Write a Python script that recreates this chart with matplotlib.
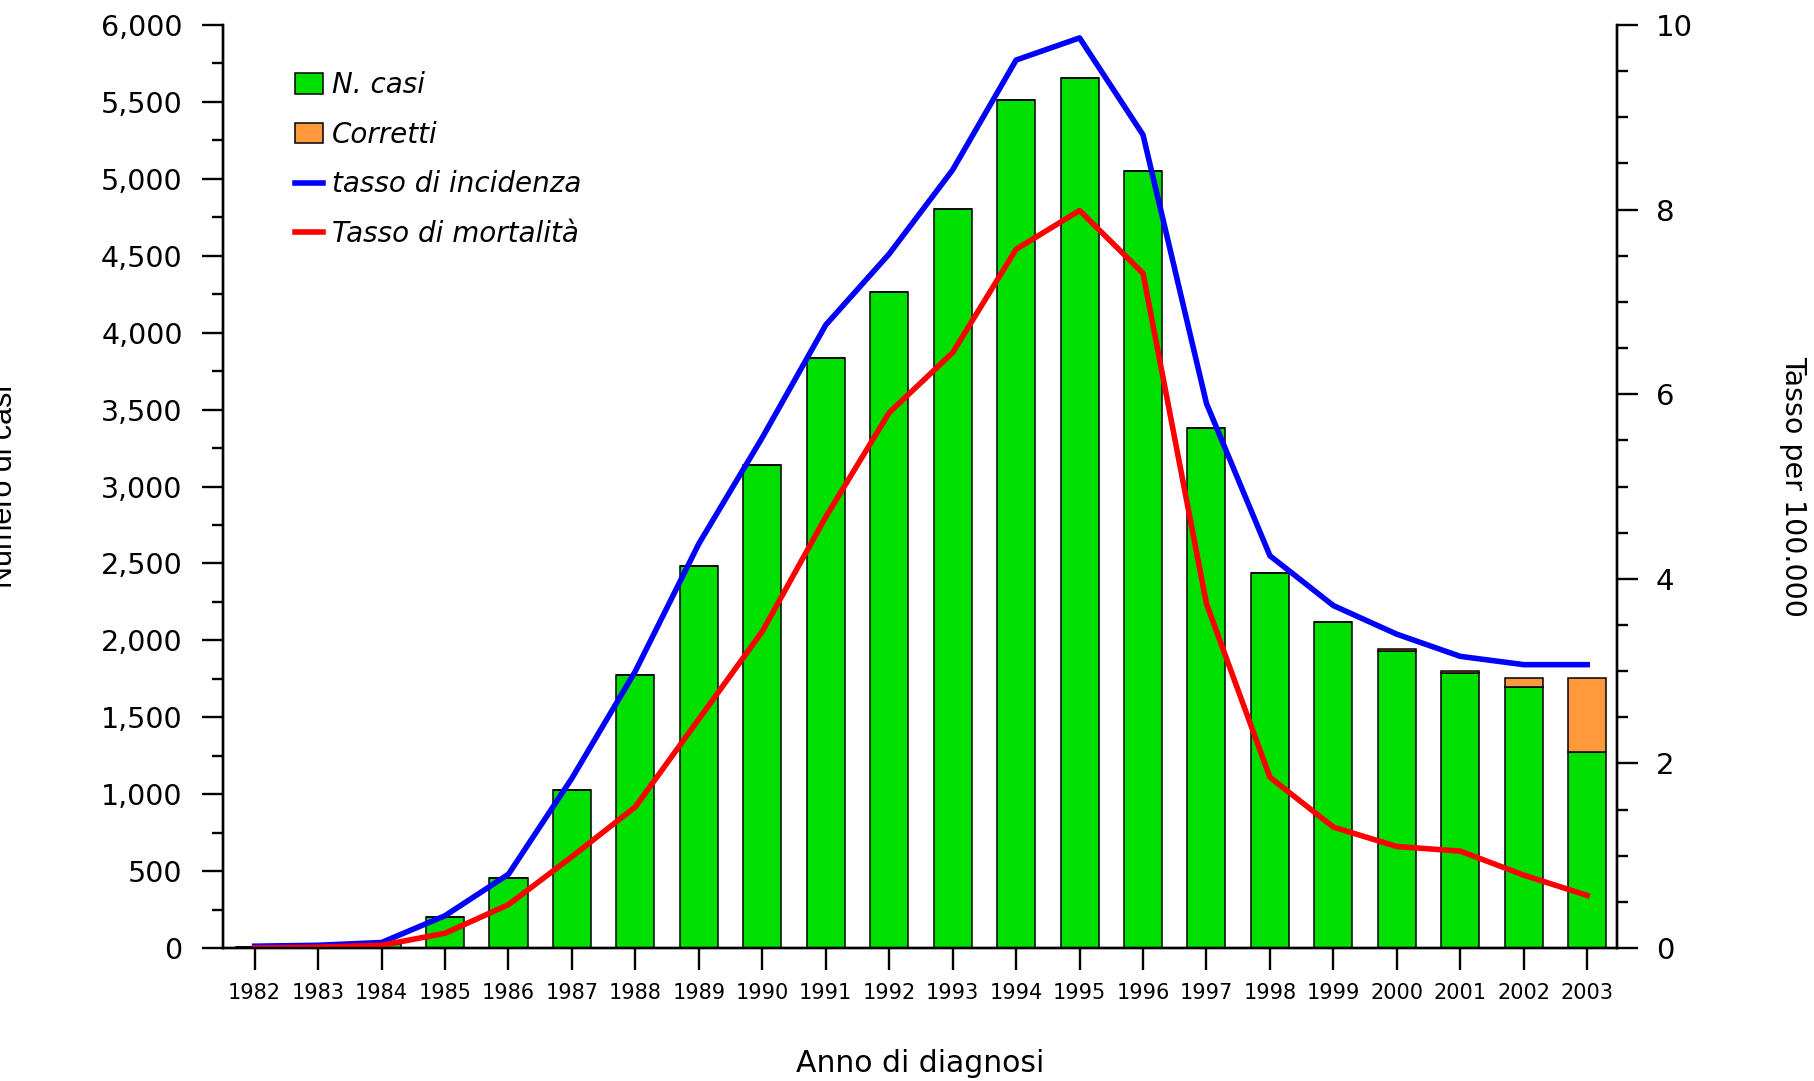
import matplotlib.pyplot as plt
from matplotlib.patches import Patch
from matplotlib.lines import Line2D
from matplotlib.ticker import FuncFormatter, MultipleLocator

anni = list(range(1982, 2004))
n_casi = [5, 10, 25, 200, 457, 1030, 1775, 2485, 3140, 3833, 4262, 4804, 5512, 5655,
          5053, 3381, 2440, 2120, 1932, 1785, 1698, 1276]
corretti = [0, 0, 0, 0, 0, 0, 0, 0, 0, 0, 0, 0, 0, 0, 0, 0, 0, 0, 15, 19, 59, 482]
tasso_incidenza = [0.02, 0.03, 0.06, 0.35, 0.80, 1.84, 3.00, 4.38, 5.53, 6.75, 7.52, 8.43,
                   9.62, 9.86, 8.81, 5.90, 4.25, 3.71, 3.40, 3.16, 3.07, 3.07]
tasso_mortalita = [0.0, 0.01, 0.03, 0.16, 0.47, 0.99, 1.53, 2.48, 3.43, 4.67, 5.80, 6.45,
                   7.57, 7.99, 7.31, 3.73, 1.85, 1.31, 1.10, 1.05, 0.79, 0.57]

verde = "#00E000"
arancio = "#FF9A3C"

fig = plt.figure(figsize=(18.14, 10.81), dpi=100)
ax = fig.add_axes([0.1229, 0.1230, 0.7685, 0.8539])
ax2 = ax.twinx()

ax.bar(anni, n_casi, width=0.6, color=verde, edgecolor="black", linewidth=1.1)
ax.bar(anni, corretti, width=0.6, bottom=n_casi, color=arancio, edgecolor="black", linewidth=1.1)

ax2.plot(anni, tasso_incidenza, color="#0000FF", linewidth=4.0)
ax2.plot(anni, tasso_mortalita, color="#FF0000", linewidth=4.0)

ax.set_xlim(1981.5, 2003.47)
ax.set_ylim(0, 6000)
ax2.set_ylim(0, 10)

ax.set_xticks(anni)
ax.set_xticklabels([str(a) for a in anni], fontsize=15)
ax.yaxis.set_major_locator(MultipleLocator(500))
ax.yaxis.set_minor_locator(MultipleLocator(250))
ax.yaxis.set_major_formatter(FuncFormatter(lambda v, p: f"{int(v):,}"))
ax2.yaxis.set_major_locator(MultipleLocator(2))
ax2.yaxis.set_minor_locator(MultipleLocator(0.5))

for a in (ax, ax2):
    a.spines["top"].set_visible(False)
    for s in ("left", "right", "bottom"):
        a.spines[s].set_linewidth(1.7)

ax.tick_params(axis="x", which="major", direction="out", length=15.5, width=1.7, pad=10)
ax.tick_params(axis="y", which="major", direction="out", length=15, width=1.7, pad=14,
               labelsize=20.5)
ax.tick_params(axis="y", which="minor", direction="out", length=8, width=1.7)
ax2.tick_params(axis="y", which="major", direction="out", length=15, width=1.7, pad=13,
                labelsize=21)
ax2.tick_params(axis="y", which="minor", direction="out", length=8, width=1.7)

fig.text(920 / 1814, 1 - 1063 / 1081, "Anno di diagnosi", fontsize=21.5, ha="center", va="center")
fig.text(4 / 1814, 1 - 486 / 1081, "Numero di casi", fontsize=22, family="Liberation Sans",
         rotation=90, ha="center", va="center")
fig.text(1793 / 1814, 1 - 486 / 1081, "Tasso per 100.000", fontsize=20.5,
         rotation=-90, ha="center", va="center")

handles = [
    Patch(facecolor=verde, edgecolor="black", linewidth=1.1),
    Patch(facecolor=arancio, edgecolor="black", linewidth=1.1),
    Line2D([0], [0], color="#0000FF", linewidth=4.0),
    Line2D([0], [0], color="#FF0000", linewidth=4.0),
]
labels = ["N. casi", "Corretti", "tasso di incidenza", "Tasso di mortalità"]
ax2.legend(handles, labels, loc="upper left", bbox_to_anchor=(0.052, 0.95),
           frameon=False, borderpad=0, borderaxespad=0, handlelength=1.0,
           handleheight=0.75, handletextpad=0.3, labelspacing=0.78,
           prop={"size": 20, "style": "italic"})

fig.savefig("out.png", dpi=100)
